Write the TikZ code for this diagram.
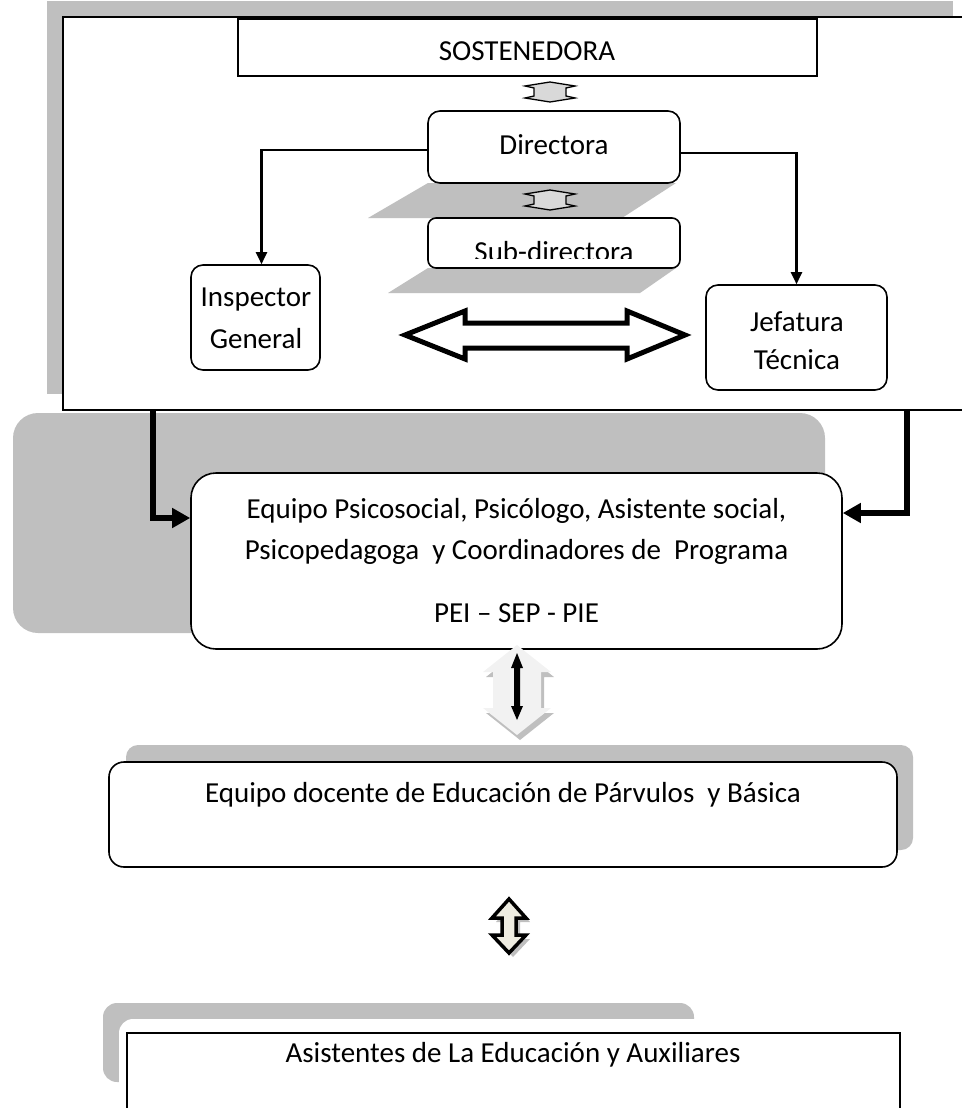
\documentclass[tikz,border=0pt]{standalone}
\usepackage{fontspec}
\setmainfont{Carlito}
\usetikzlibrary{arrows.meta}
\definecolor{shadegray}{RGB}{191,191,191}
\definecolor{hexgray}{RGB}{217,217,217}
\definecolor{lightarr}{RGB}{242,242,242}
\definecolor{cream}{RGB}{238,236,225}
\begin{document}
\begin{tikzpicture}[x=1pt,y=-1pt,
  rbox/.style={draw, fill=white, line width=1.6pt, rounded corners=12pt, inner sep=0pt},
  sbox/.style={draw, fill=white, line width=2.2pt, inner sep=0pt},
  txt/.style={font=\fontsize{29}{34}\selectfont, inner sep=0pt},
  conn/.style={line width=2.2pt, -{Triangle[length=12pt,width=11pt]}},
  thickconn/.style={line width=6pt, -{Triangle[length=18pt,width=19pt]}},
  updn/.pic={\draw[fill=hexgray, line width=1.3pt, line join=miter]
     (0,-10) -- (25,-6) -- (16,-4) -- (16,4) -- (25,6) -- (0,10) -- (-25,6) -- (-16,4) -- (-16,-4) -- (-25,-6) -- cycle;}
]
\useasboundingbox (0,0) rectangle (961,1108);

% ---------- top frame ----------
\fill[shadegray] (47,1) rectangle (953,394);
\node[draw, fill=white, line width=1.6pt, inner sep=0pt, minimum width=900pt, minimum height=393pt] (frame) at (513,213.5) {};

\node[sbox, minimum width=579pt, minimum height=57pt] (sost) at (527.5,47.5) {};
\node[txt] (sosttxt) at (527,51) {SOSTENEDORA};

% shadows of directora / sub-directora
\fill[shadegray] (428,183) -- (676,183) -- (622,218) -- (368,218) -- cycle;
\fill[shadegray] (428,268) -- (676,268) -- (640,293) -- (388,293) -- cycle;

\node[rbox, minimum width=252pt, minimum height=72pt] (dir) at (554,147) {};
\node[txt] (dirtxt) at (554,145) {Directora};
\node[rbox, rounded corners=8pt, minimum width=252pt, minimum height=50pt] (sub) at (554,243) {};
\begin{scope}
\clip (430,220) rectangle (678,258);
\node[txt] (subtxt) at (554,252) {Sub-directora};
\end{scope}

\pic at (550,92) {updn};
\pic at (550,200) {updn};

\node[rbox, minimum width=129pt, minimum height=105pt] (insp) at (255.5,317.5) {};
\node[txt] (insp1) at (256,300) {Inspector};
\node[txt] (insp2) at (256,339) {General};
\node[rbox, minimum width=181pt, minimum height=105pt] (jef) at (796.5,337.5) {};
\node[txt] (jef1) at (797,322) {Jefatura};
\node[txt] (jef2) at (797,360) {Técnica};

\draw[conn] ([yshift=-3pt]dir.west) -| ([xshift=6pt]insp.north);
\draw[conn] ([yshift=-6pt]dir.east) -| (jef.north);

% big hollow double arrow
\draw[line width=5pt, fill=white, line join=miter, miter limit=10]
  (405,335) -- (465,311) -- (465,323) -- (627,323) -- (627,311) -- (685,335)
  -- (627,359) -- (627,348) -- (465,348) -- (465,359) -- cycle;

% ---------- middle ----------
\fill[shadegray, rounded corners=25pt] (13,413) rectangle (825,633);
\node[rbox, rounded corners=25pt, minimum width=651pt, minimum height=176pt,
      align=center, font=\fontsize{29}{41}\selectfont] (eq) at (516.5,561)
  {Equipo Psicosocial, Psicólogo, Asistente social,\\
   Psicopedagoga~ y Coordinadores de~ Programa\\[22pt]
   PEI – SEP - PIE};

\coordinate (lstart) at (153,410);
\coordinate (rstart) at (907,410);
\draw[thickconn] (lstart) |- ([yshift=43pt]eq.west);
\draw[thickconn] (rstart) |- ([yshift=48pt]eq.east);

% light up-down arrow
\fill[shadegray, shift={(3,5)}] (517,645) -- (551,672) -- (541,672) -- (541,708) -- (551,708) -- (517,735)
  -- (483,708) -- (493,708) -- (493,672) -- (483,672) -- cycle;
\fill[lightarr] (517,645) -- (551,672) -- (541,672) -- (541,708) -- (551,708) -- (517,735)
  -- (483,708) -- (493,708) -- (493,672) -- (483,672) -- cycle;
\fill[black] (517,653) -- (523,668) -- (520,668) -- (520,706) -- (523,706) -- (517,720)
  -- (511,706) -- (514,706) -- (514,668) -- (511,668) -- cycle;

% ---------- docente ----------
\fill[shadegray, rounded corners=12pt] (126,745) rectangle (913,850);
\node[rbox, rounded corners=15pt, minimum width=788pt, minimum height=105pt] (doc) at (503,814.5) {};
\node[txt] (doctxt) at (503,795) {Equipo docente de Educación de Párvulos~ y Básica};

% cream up-down arrow
\fill[shadegray, shift={(4,4)}] (509,899) -- (526,918) -- (516,918) -- (516,935) -- (526,935) -- (509,953)
  -- (492,935) -- (502,935) -- (502,918) -- (492,918) -- cycle;
\draw[line width=3.5pt, fill=cream, line join=miter] (509,899) -- (526,918) -- (516,918) -- (516,935) -- (526,935) -- (509,953)
  -- (492,935) -- (502,935) -- (502,918) -- (492,918) -- cycle;

% ---------- bottom ----------
\fill[shadegray, rounded corners=14pt] (103,1003) rectangle (694,1082);
\fill[white, rounded corners=14pt] (119,1019) rectangle (740,1140);
\node[sbox, line width=2pt, minimum width=773pt, minimum height=87pt] (asis) at (513.5,1076.5) {};
\node[txt] (asistxt) at (513,1055) {Asistentes de La Educación y Auxiliares};
\end{tikzpicture}
\end{document}
